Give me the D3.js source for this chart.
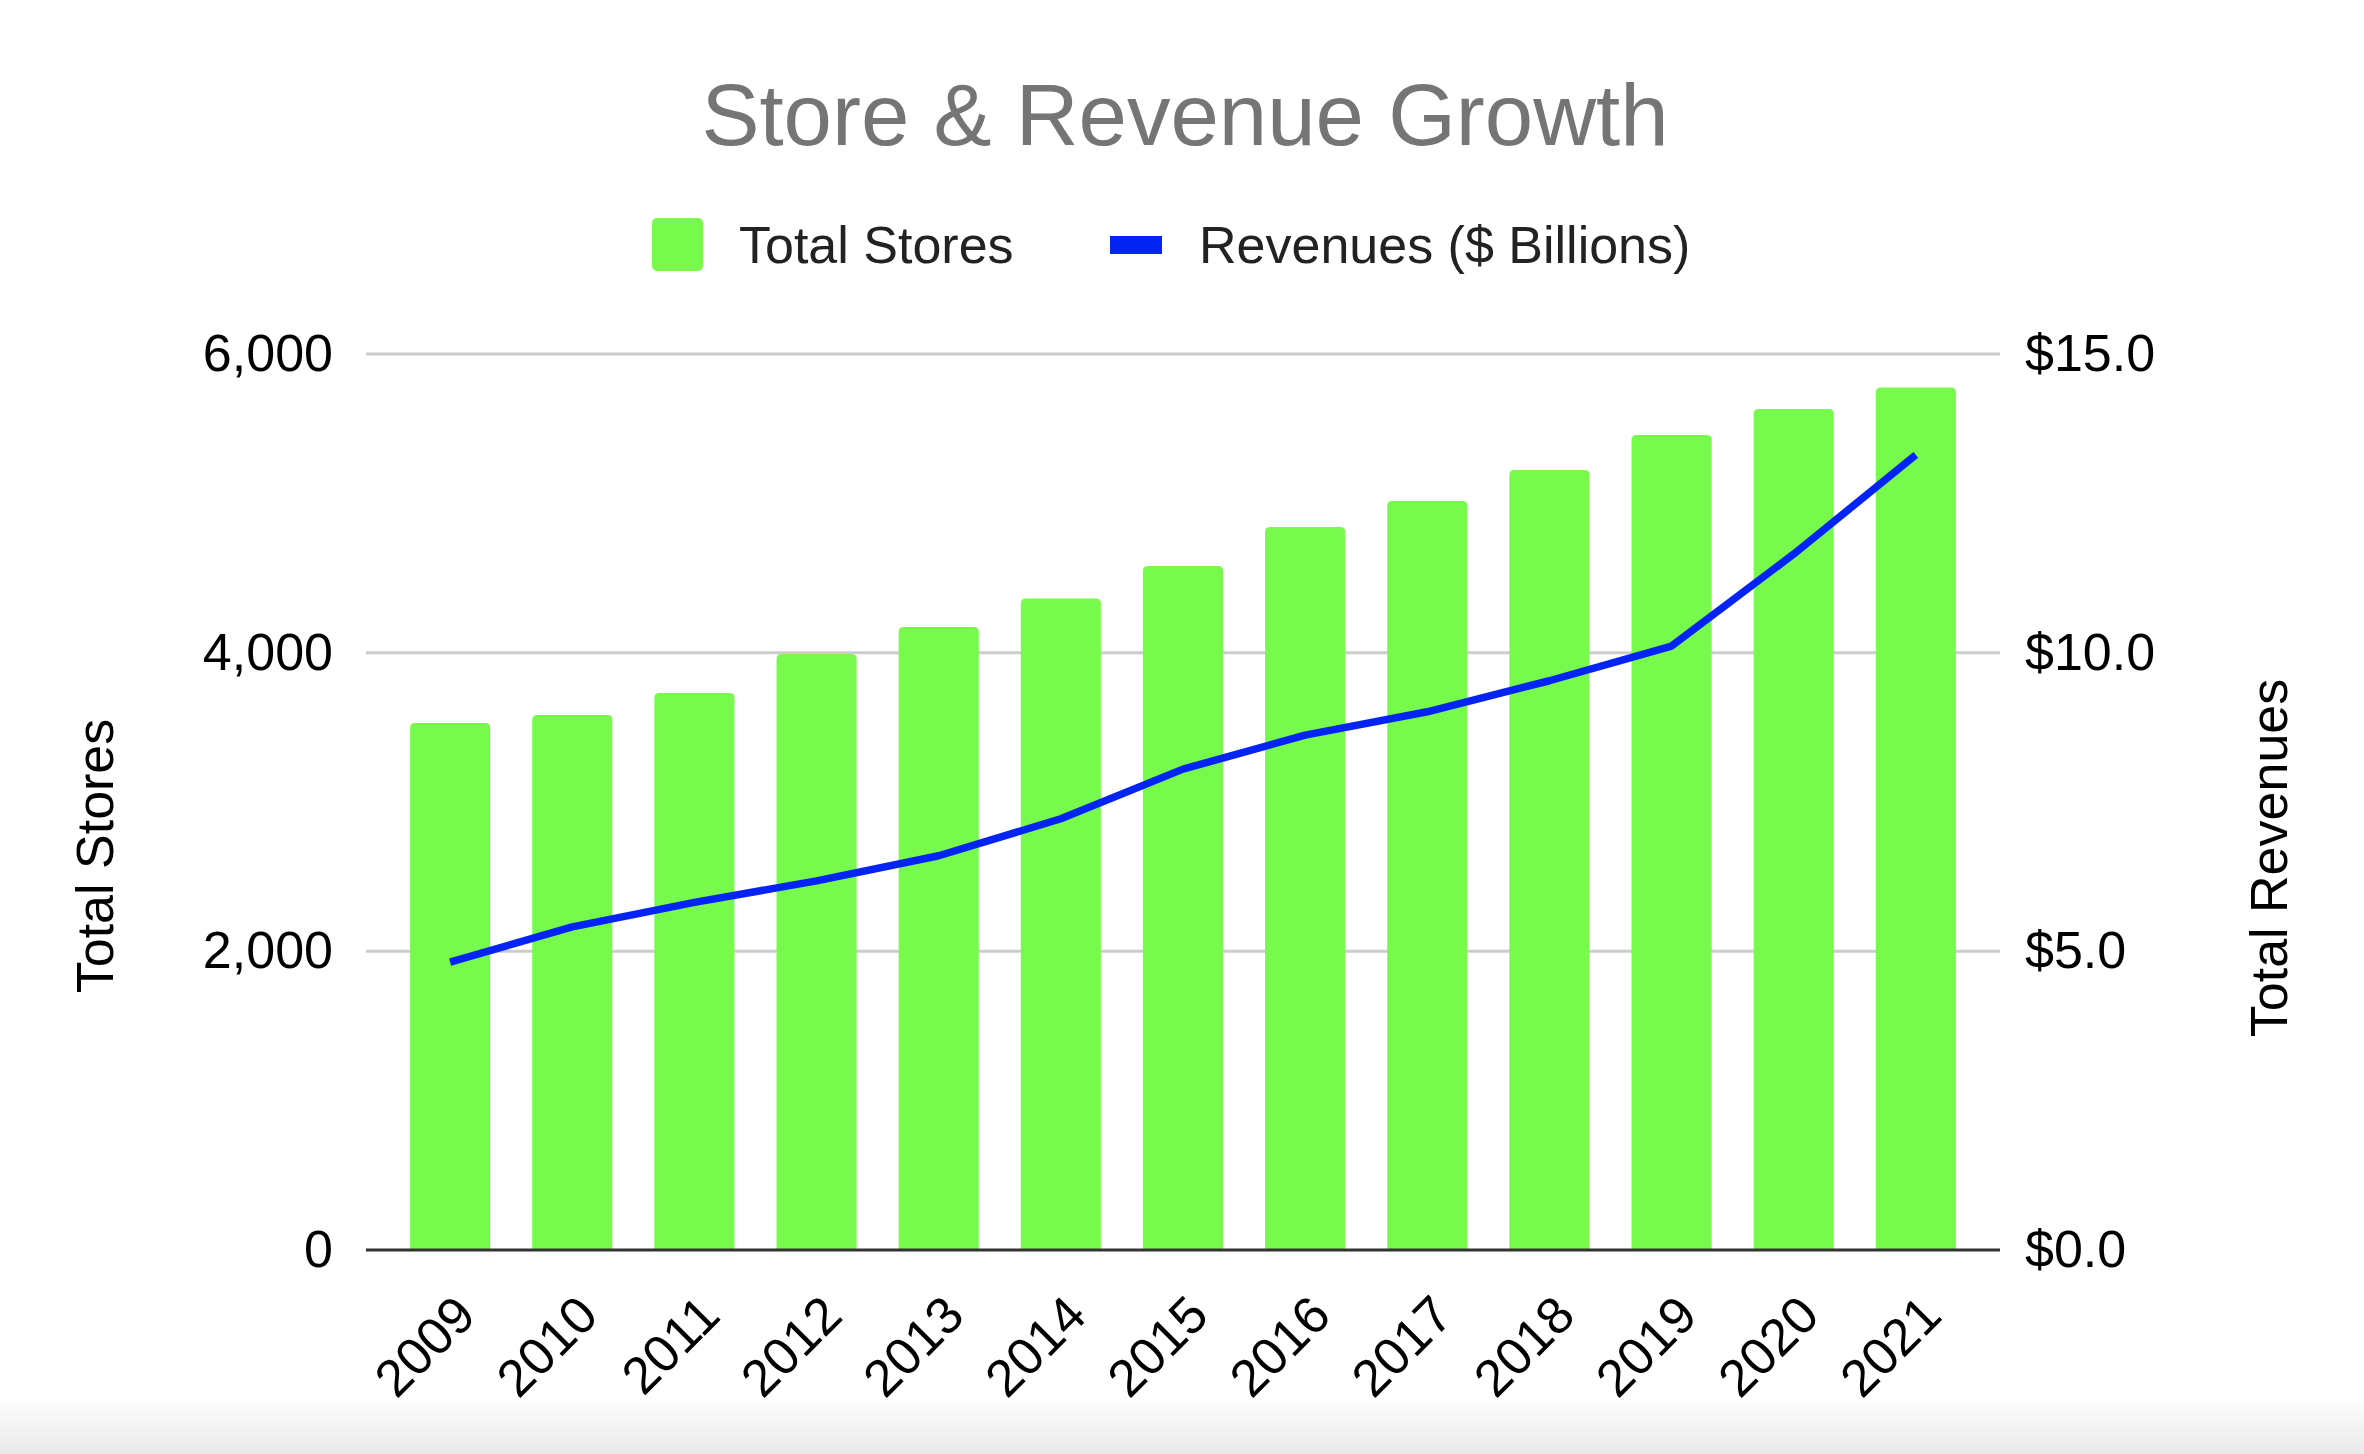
<!DOCTYPE html>
<html>
<head>
<meta charset="utf-8">
<script src="https://cdn.jsdelivr.net/npm/d3@7"></script>
<style>
  body { margin: 0; background: #fff; }
  svg { display: block; }
</style>
</head>
<body>
<div id="chart"></div>
<script>
// data
const years = ['2009', '2010', '2011', '2012', '2013', '2014', '2015',
  '2016', '2017', '2018', '2019', '2020', '2021'];
const stores = [3529, 3583, 3730, 3991, 4172, 4363, 4580, 4842, 5016, 5223, 5458, 5632, 5775];
const revenues = [4.82, 5.41, 5.82, 6.18, 6.6, 7.22, 8.05, 8.62, 9.01, 9.53, 10.11, 11.65, 13.31];
const storeTicks = [0, 2000, 4000, 6000];
const revenueTicks = [0, 5, 10, 15];

/**
 * Bar path with slightly rounded top corners
 */
function barPath(x, y, w, h, r) {
  return 'M' + x + ',' + (y + h) +
    'V' + (y + r) + 'Q' + x + ',' + y + ' ' + (x + r) + ',' + y +
    'H' + (x + w - r) + 'Q' + (x + w) + ',' + y + ' ' + (x + w) + ',' + (y + r) +
    'V' + (y + h) + 'Z';
}

(function main() {
  // constants
  const SVG_WIDTH = 2364;
  const SVG_HEIGHT = 1454;
  const LEFT = 366;
  const RIGHT = 2000;
  const TOP = 354;
  const BOTTOM = 1250;
  const FONT = '"Liberation Sans", Arial, Helvetica, sans-serif';
  const GREEN = '#78fa4c';
  const BLUE = '#0424f6';

  const svg = d3.select('#chart').append('svg')
    .attr('width', SVG_WIDTH)
    .attr('height', SVG_HEIGHT)
    .style('font-family', FONT);

  // window shade at the very bottom
  const grad = svg.append('defs').append('linearGradient')
    .attr('id', 'shade')
    .attr('x1', 0).attr('y1', 0).attr('x2', 0).attr('y2', 1);
  grad.append('stop').attr('offset', 0).attr('stop-color', '#ffffff');
  grad.append('stop').attr('offset', 1).attr('stop-color', '#e9e9e9');
  svg.append('rect')
    .attr('x', 0).attr('y', 1396)
    .attr('width', SVG_WIDTH).attr('height', 58)
    .attr('fill', 'url(#shade)');

  // scales
  const x = d3.scaleBand()
    .domain(years)
    .range([LEFT, RIGHT])
    .paddingInner(0.344)
    .paddingOuter(0.361);
  const yLeft = d3.scaleLinear()
    .domain([0, 6000])
    .range([BOTTOM, TOP]);
  const yRight = d3.scaleLinear()
    .domain([0, 15])
    .range([BOTTOM, TOP]);

  // title
  svg.append('text')
    .attr('x', 1185)
    .attr('y', 145)
    .attr('text-anchor', 'middle')
    .attr('font-size', 87)
    .attr('fill', '#757575')
    .text('Store & Revenue Growth');

  // legend
  const legend = svg.append('g').attr('font-size', 52).attr('fill', '#222');
  legend.append('rect')
    .attr('x', 652).attr('y', 218)
    .attr('width', 51).attr('height', 53)
    .attr('rx', 5)
    .attr('fill', GREEN);
  legend.append('text').attr('x', 739).attr('y', 263).text('Total Stores');
  legend.append('rect')
    .attr('x', 1110).attr('y', 236)
    .attr('width', 52).attr('height', 18)
    .attr('fill', BLUE);
  legend.append('text').attr('x', 1199).attr('y', 263).text('Revenues ($ Billions)');

  // gridlines
  svg.append('g')
    .selectAll('line')
    .data(storeTicks.filter(d => d > 0))
    .join('line')
      .attr('x1', LEFT)
      .attr('x2', RIGHT)
      .attr('y1', d => yLeft(d))
      .attr('y2', d => yLeft(d))
      .attr('stroke', '#cccccc')
      .attr('stroke-width', 3);

  // bars
  svg.append('g')
    .selectAll('path')
    .data(stores)
    .join('path')
      .attr('fill', GREEN)
      .attr('d', (d, i) => barPath(x(years[i]), yLeft(d), x.bandwidth(), BOTTOM - yLeft(d), 5));

  // baseline
  svg.append('line')
    .attr('x1', LEFT)
    .attr('x2', RIGHT)
    .attr('y1', BOTTOM)
    .attr('y2', BOTTOM)
    .attr('stroke', '#333')
    .attr('stroke-width', 3);

  // revenue line
  const line = d3.line()
    .x((_, i) => x(years[i]) + x.bandwidth() / 2)
    .y(d => yRight(d));

  svg.append('path')
    .datum(revenues)
      .attr('fill', 'none')
      .attr('stroke', BLUE)
      .attr('stroke-width', 7.5)
      .attr('stroke-linejoin', 'round')
      .attr('d', line);

  // axes
  const leftAxis = svg.append('g')
    .attr('transform', 'translate(' + LEFT + ',0)')
    .call(d3.axisLeft(yLeft)
      .tickValues(storeTicks)
      .tickSize(0)
      .tickPadding(33)
      .tickFormat(d3.format(',')));
  const rightAxis = svg.append('g')
    .attr('transform', 'translate(' + RIGHT + ',0)')
    .call(d3.axisRight(yRight)
      .tickValues(revenueTicks)
      .tickSize(0)
      .tickPadding(25)
      .tickFormat(d => '$' + d.toFixed(1)));
  const bottomAxis = svg.append('g')
    .attr('transform', 'translate(0,' + BOTTOM + ')')
    .call(d3.axisBottom(x).tickSize(0));

  [leftAxis, rightAxis, bottomAxis].forEach(g => {
    g.select('.domain').remove();
    g.attr('font-family', FONT).attr('font-size', 52);
    g.selectAll('text').attr('fill', '#000');
  });

  bottomAxis.selectAll('text')
    .attr('x', 0)
    .attr('y', 0)
    .attr('dy', 0)
    .style('text-anchor', 'end')
    .attr('transform', 'translate(' + (x.bandwidth() / 2 - 12) + ',68) rotate(-45)');

  // axis titles
  svg.append('text')
    .attr('transform', 'translate(113,856) rotate(-90)')
    .attr('text-anchor', 'middle')
    .attr('font-size', 52)
    .attr('fill', '#000')
    .text('Total Stores');
  svg.append('text')
    .attr('transform', 'translate(2287,858) rotate(-90)')
    .attr('text-anchor', 'middle')
    .attr('font-size', 52)
    .attr('fill', '#000')
    .text('Total Revenues');
})();
</script>
</body>
</html>
